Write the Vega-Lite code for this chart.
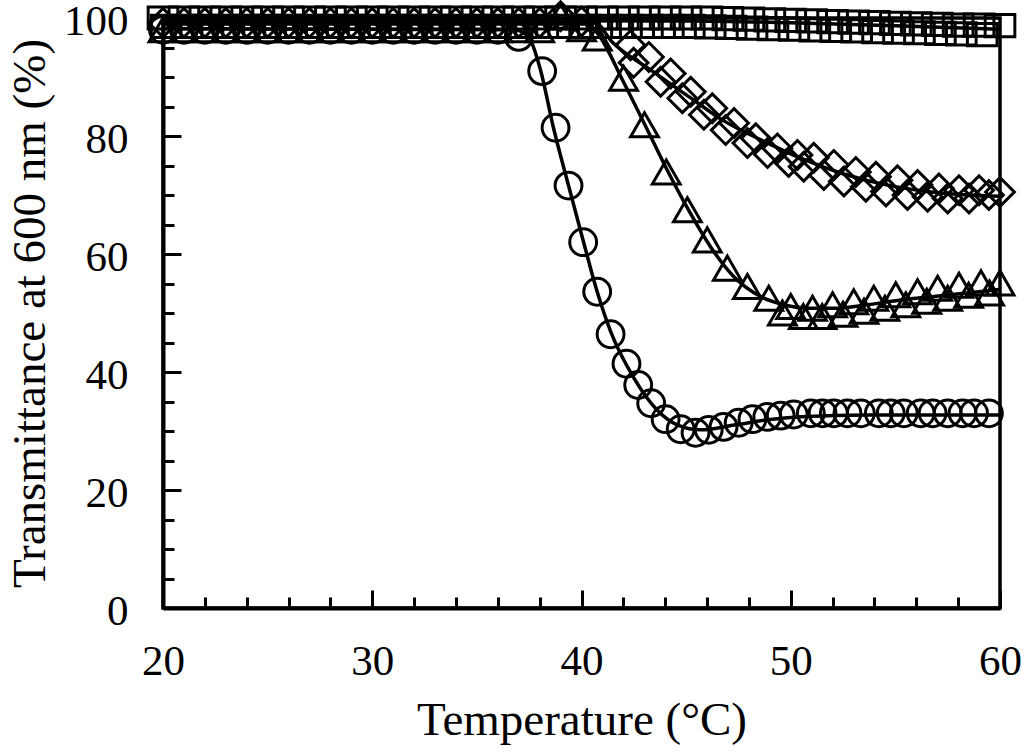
{
  "$schema": "https://vega.github.io/schema/vega-lite/v6.json",
  "width": 837,
  "height": 590,
  "autosize": {"type": "none"},
  "padding": {"left": 163, "top": 18, "right": 24, "bottom": 144},
  "background": "white",
  "config": {
    "view": {"stroke": "black", "strokeWidth": 3.5},
    "axis": {
      "grid": false,
      "domainColor": "black",
      "domainWidth": 4,
      "tickColor": "black",
      "tickWidth": 3,
      "labelColor": "black",
      "titleColor": "black",
      "labelFont": "Liberation Serif",
      "titleFont": "Liberation Serif",
      "labelFontSize": 43,
      "titleFontSize": 47,
      "titleFontWeight": "normal"
    }
  },
  "datasets": {
    "fits": [
      {"s": "circ", "T": 20, "V": 98.2}, {"s": "circ", "T": 36.8, "V": 98.0}, {"s": "circ", "T": 37.5, "V": 96.6},
      {"s": "circ", "T": 38.04, "V": 91.2}, {"s": "circ", "T": 38.66, "V": 81.4}, {"s": "circ", "T": 39.38, "V": 71.6},
      {"s": "circ", "T": 40.1, "V": 62.0}, {"s": "circ", "T": 40.75, "V": 53.6}, {"s": "circ", "T": 41.4, "V": 46.8},
      {"s": "circ", "T": 42.5, "V": 39.0}, {"s": "circ", "T": 43.6, "V": 33.6}, {"s": "circ", "T": 44.6, "V": 31.0},
      {"s": "circ", "T": 45.7, "V": 30.2}, {"s": "circ", "T": 47.3, "V": 31.0}, {"s": "circ", "T": 48.9, "V": 31.9},
      {"s": "circ", "T": 50.5, "V": 32.4}, {"s": "circ", "T": 53.7, "V": 32.7}, {"s": "circ", "T": 60, "V": 32.7},
      {"s": "tri", "T": 20, "V": 99.0}, {"s": "tri", "T": 40.3, "V": 99.0}, {"s": "tri", "T": 40.75, "V": 97.5},
      {"s": "tri", "T": 42.0, "V": 89.2}, {"s": "tri", "T": 43.1, "V": 81.4}, {"s": "tri", "T": 44.1, "V": 74.2},
      {"s": "tri", "T": 45.06, "V": 67.8}, {"s": "tri", "T": 46.17, "V": 61.2}, {"s": "tri", "T": 47.27, "V": 56.2},
      {"s": "tri", "T": 48.56, "V": 52.8}, {"s": "tri", "T": 49.67, "V": 51.4}, {"s": "tri", "T": 50.9, "V": 50.8},
      {"s": "tri", "T": 52.06, "V": 50.8}, {"s": "tri", "T": 53.67, "V": 51.4}, {"s": "tri", "T": 55.26, "V": 52.2},
      {"s": "tri", "T": 56.85, "V": 52.8}, {"s": "tri", "T": 58.45, "V": 53.4}, {"s": "tri", "T": 60, "V": 54.0},
      {"s": "dia", "T": 20, "V": 99.3}, {"s": "dia", "T": 40.6, "V": 99.3}, {"s": "dia", "T": 41.5, "V": 95.8},
      {"s": "dia", "T": 43.3, "V": 91.2}, {"s": "dia", "T": 45.36, "V": 86.1}, {"s": "dia", "T": 46.65, "V": 82.9},
      {"s": "dia", "T": 48.9, "V": 78.8}, {"s": "dia", "T": 50.5, "V": 76.2}, {"s": "dia", "T": 52.5, "V": 73.6},
      {"s": "dia", "T": 54.45, "V": 71.8}, {"s": "dia", "T": 56.5, "V": 70.6}, {"s": "dia", "T": 58.45, "V": 70.0},
      {"s": "dia", "T": 60, "V": 69.8},
      {"s": "sq", "T": 20, "V": 99.6}, {"s": "sq", "T": 45, "V": 99.5}, {"s": "sq", "T": 50, "V": 99.2},
      {"s": "sq", "T": 55, "V": 98.7}, {"s": "sq", "T": 60, "V": 98.1}
    ],
    "pts": [
      {"m": "sq", "T": 20, "V": 100.0}, {"m": "sq", "T": 21, "V": 100.0}, {"m": "sq", "T": 22, "V": 100.0}, {"m": "sq", "T": 23, "V": 100.0},
      {"m": "sq", "T": 24, "V": 100.0}, {"m": "sq", "T": 25, "V": 100.0}, {"m": "sq", "T": 26, "V": 100.0}, {"m": "sq", "T": 27, "V": 100.0},
      {"m": "sq", "T": 28, "V": 100.0}, {"m": "sq", "T": 29, "V": 100.0}, {"m": "sq", "T": 30, "V": 100.0}, {"m": "sq", "T": 31, "V": 100.0},
      {"m": "sq", "T": 32, "V": 100.0}, {"m": "sq", "T": 33, "V": 100.0}, {"m": "sq", "T": 34, "V": 100.0}, {"m": "sq", "T": 35, "V": 100.0},
      {"m": "sq", "T": 36, "V": 100.0}, {"m": "sq", "T": 37, "V": 100.0}, {"m": "sq", "T": 38, "V": 100.0}, {"m": "sq", "T": 39, "V": 100.0},
      {"m": "sq", "T": 40, "V": 100.0}, {"m": "sq", "T": 41, "V": 100.0}, {"m": "sq", "T": 42, "V": 100.0}, {"m": "sq", "T": 43, "V": 100.0},
      {"m": "sq", "T": 44, "V": 100.0}, {"m": "sq", "T": 45, "V": 100.0}, {"m": "sq", "T": 46, "V": 100.0}, {"m": "sq", "T": 47, "V": 99.9},
      {"m": "sq", "T": 48, "V": 99.8}, {"m": "sq", "T": 49, "V": 99.7}, {"m": "sq", "T": 50, "V": 99.6}, {"m": "sq", "T": 51, "V": 99.5},
      {"m": "sq", "T": 52, "V": 99.4}, {"m": "sq", "T": 53, "V": 99.3}, {"m": "sq", "T": 54, "V": 99.2}, {"m": "sq", "T": 55, "V": 99.1},
      {"m": "sq", "T": 56, "V": 99.0}, {"m": "sq", "T": 57, "V": 98.9}, {"m": "sq", "T": 58, "V": 98.8}, {"m": "sq", "T": 59, "V": 98.8},
      {"m": "sq", "T": 60, "V": 98.7},
      {"m": "sq", "T": 20.15, "V": 98.6}, {"m": "sq", "T": 21.15, "V": 98.6}, {"m": "sq", "T": 22.15, "V": 98.6}, {"m": "sq", "T": 23.15, "V": 98.6},
      {"m": "sq", "T": 24.15, "V": 98.6}, {"m": "sq", "T": 25.15, "V": 98.6}, {"m": "sq", "T": 26.15, "V": 98.6}, {"m": "sq", "T": 27.15, "V": 98.6},
      {"m": "sq", "T": 28.15, "V": 98.6}, {"m": "sq", "T": 29.15, "V": 98.6}, {"m": "sq", "T": 30.15, "V": 98.6}, {"m": "sq", "T": 31.15, "V": 98.6},
      {"m": "sq", "T": 32.15, "V": 98.6}, {"m": "sq", "T": 33.15, "V": 98.6}, {"m": "sq", "T": 34.15, "V": 98.6}, {"m": "sq", "T": 35.15, "V": 98.6},
      {"m": "sq", "T": 36.15, "V": 98.6}, {"m": "sq", "T": 37.15, "V": 98.6}, {"m": "sq", "T": 38.15, "V": 98.6}, {"m": "sq", "T": 39.15, "V": 98.6},
      {"m": "sq", "T": 40.15, "V": 98.6}, {"m": "sq", "T": 41.15, "V": 98.6}, {"m": "sq", "T": 42.15, "V": 98.6}, {"m": "sq", "T": 43.15, "V": 98.6},
      {"m": "sq", "T": 44.15, "V": 98.6}, {"m": "sq", "T": 45.15, "V": 98.6}, {"m": "sq", "T": 46.15, "V": 98.5}, {"m": "sq", "T": 47.15, "V": 98.4},
      {"m": "sq", "T": 48.15, "V": 98.3}, {"m": "sq", "T": 49.15, "V": 98.2}, {"m": "sq", "T": 50.15, "V": 98.1}, {"m": "sq", "T": 51.15, "V": 98.0},
      {"m": "sq", "T": 52.15, "V": 97.9}, {"m": "sq", "T": 53.15, "V": 97.8}, {"m": "sq", "T": 54.15, "V": 97.7}, {"m": "sq", "T": 55.15, "V": 97.6},
      {"m": "sq", "T": 56.15, "V": 97.5}, {"m": "sq", "T": 57.15, "V": 97.4}, {"m": "sq", "T": 58.15, "V": 97.3}, {"m": "sq", "T": 59.15, "V": 97.2},
      {"m": "dia", "T": 20, "V": 99.2}, {"m": "dia", "T": 21, "V": 99.2}, {"m": "dia", "T": 22, "V": 99.2}, {"m": "dia", "T": 23, "V": 99.2},
      {"m": "dia", "T": 24, "V": 99.2}, {"m": "dia", "T": 25, "V": 99.2}, {"m": "dia", "T": 26, "V": 99.2}, {"m": "dia", "T": 27, "V": 99.2},
      {"m": "dia", "T": 28, "V": 99.2}, {"m": "dia", "T": 29, "V": 99.2}, {"m": "dia", "T": 30, "V": 99.2}, {"m": "dia", "T": 31, "V": 99.2},
      {"m": "dia", "T": 32, "V": 99.2}, {"m": "dia", "T": 33, "V": 99.2}, {"m": "dia", "T": 34, "V": 99.2}, {"m": "dia", "T": 35, "V": 99.2},
      {"m": "dia", "T": 36, "V": 99.2}, {"m": "dia", "T": 37, "V": 99.2}, {"m": "dia", "T": 38, "V": 99.2}, {"m": "dia", "T": 39, "V": 100.3},
      {"m": "dia", "T": 40, "V": 99.4},
      {"m": "dia", "T": 42.34, "V": 95.4}, {"m": "dia", "T": 43.22, "V": 93.4}, {"m": "dia", "T": 44.26, "V": 90.6}, {"m": "dia", "T": 45.22, "V": 87.5},
      {"m": "dia", "T": 46.25, "V": 84.7}, {"m": "dia", "T": 47.29, "V": 82.2}, {"m": "dia", "T": 48.33, "V": 79.6}, {"m": "dia", "T": 49.36, "V": 77.9},
      {"m": "dia", "T": 50.32, "V": 76.8}, {"m": "dia", "T": 51.1, "V": 76.3}, {"m": "dia", "T": 52.06, "V": 75.1}, {"m": "dia", "T": 53.11, "V": 73.9},
      {"m": "dia", "T": 54.07, "V": 73.1}, {"m": "dia", "T": 55.1, "V": 72.5}, {"m": "dia", "T": 56.06, "V": 71.7}, {"m": "dia", "T": 57.08, "V": 71.1},
      {"m": "dia", "T": 58.04, "V": 70.8}, {"m": "dia", "T": 59.0, "V": 70.8}, {"m": "dia", "T": 60.0, "V": 70.5},
      {"m": "dia", "T": 42.49, "V": 92.4}, {"m": "dia", "T": 43.78, "V": 89.2}, {"m": "dia", "T": 44.82, "V": 86.4}, {"m": "dia", "T": 45.85, "V": 83.6},
      {"m": "dia", "T": 46.89, "V": 81.0}, {"m": "dia", "T": 47.93, "V": 78.8}, {"m": "dia", "T": 48.89, "V": 77.1}, {"m": "dia", "T": 49.9, "V": 75.6},
      {"m": "dia", "T": 50.62, "V": 74.8}, {"m": "dia", "T": 51.58, "V": 73.4}, {"m": "dia", "T": 52.54, "V": 72.3}, {"m": "dia", "T": 53.59, "V": 71.4},
      {"m": "dia", "T": 54.55, "V": 70.6}, {"m": "dia", "T": 55.58, "V": 70.0}, {"m": "dia", "T": 56.54, "V": 69.7}, {"m": "dia", "T": 57.5, "V": 69.4},
      {"m": "dia", "T": 58.52, "V": 69.4}, {"m": "dia", "T": 59.47, "V": 70.0},
      {"m": "tri", "T": 20, "V": 98.0}, {"m": "tri", "T": 21, "V": 98.0}, {"m": "tri", "T": 22, "V": 98.0}, {"m": "tri", "T": 23, "V": 98.0},
      {"m": "tri", "T": 24, "V": 98.0}, {"m": "tri", "T": 25, "V": 98.0}, {"m": "tri", "T": 26, "V": 98.0}, {"m": "tri", "T": 27, "V": 98.0},
      {"m": "tri", "T": 28, "V": 98.0}, {"m": "tri", "T": 29, "V": 98.0}, {"m": "tri", "T": 30, "V": 98.0}, {"m": "tri", "T": 31, "V": 98.0},
      {"m": "tri", "T": 32, "V": 98.0}, {"m": "tri", "T": 33, "V": 98.0}, {"m": "tri", "T": 34, "V": 98.0}, {"m": "tri", "T": 35, "V": 98.0},
      {"m": "tri", "T": 36, "V": 98.0}, {"m": "tri", "T": 37, "V": 98.0}, {"m": "tri", "T": 38, "V": 98.0}, {"m": "tri", "T": 39, "V": 100.3},
      {"m": "tri", "T": 40, "V": 98.2},
      {"m": "tri", "T": 40.75, "V": 96.6}, {"m": "tri", "T": 42.01, "V": 89.8}, {"m": "tri", "T": 43.01, "V": 81.9}, {"m": "tri", "T": 44.05, "V": 73.9},
      {"m": "tri", "T": 45.06, "V": 67.5}, {"m": "tri", "T": 46.01, "V": 62.4}, {"m": "tri", "T": 46.97, "V": 57.6}, {"m": "tri", "T": 47.93, "V": 54.5},
      {"m": "tri", "T": 48.95, "V": 52.5}, {"m": "tri", "T": 50.0, "V": 51.1}, {"m": "tri", "T": 51.04, "V": 50.8}, {"m": "tri", "T": 52.0, "V": 51.4},
      {"m": "tri", "T": 53.01, "V": 51.9}, {"m": "tri", "T": 53.97, "V": 52.5}, {"m": "tri", "T": 55.02, "V": 53.1}, {"m": "tri", "T": 56.06, "V": 53.6},
      {"m": "tri", "T": 57.02, "V": 54.2}, {"m": "tri", "T": 58.04, "V": 54.7}, {"m": "tri", "T": 59.09, "V": 55.1}, {"m": "tri", "T": 60.0, "V": 55.1},
      {"m": "tri", "T": 49.6, "V": 50.0}, {"m": "tri", "T": 50.6, "V": 49.4}, {"m": "tri", "T": 51.5, "V": 49.4}, {"m": "tri", "T": 52.5, "V": 49.8},
      {"m": "tri", "T": 53.5, "V": 50.3}, {"m": "tri", "T": 54.5, "V": 50.8}, {"m": "tri", "T": 55.5, "V": 51.4}, {"m": "tri", "T": 56.5, "V": 52.0},
      {"m": "tri", "T": 57.5, "V": 52.5}, {"m": "tri", "T": 58.5, "V": 53.0}, {"m": "tri", "T": 59.5, "V": 53.4},
      {"m": "circ", "T": 20, "V": 98.0}, {"m": "circ", "T": 21, "V": 98.0}, {"m": "circ", "T": 22, "V": 98.0}, {"m": "circ", "T": 23, "V": 98.0},
      {"m": "circ", "T": 24, "V": 98.0}, {"m": "circ", "T": 25, "V": 98.0}, {"m": "circ", "T": 26, "V": 98.0}, {"m": "circ", "T": 27, "V": 98.0},
      {"m": "circ", "T": 28, "V": 98.0}, {"m": "circ", "T": 29, "V": 98.0}, {"m": "circ", "T": 30, "V": 98.0}, {"m": "circ", "T": 31, "V": 98.0},
      {"m": "circ", "T": 32, "V": 98.0}, {"m": "circ", "T": 33, "V": 98.0}, {"m": "circ", "T": 34, "V": 98.0}, {"m": "circ", "T": 35, "V": 98.0},
      {"m": "circ", "T": 36, "V": 98.0}, {"m": "circ", "T": 37.0, "V": 96.8},
      {"m": "circ", "T": 38.12, "V": 91.0}, {"m": "circ", "T": 38.76, "V": 81.4}, {"m": "circ", "T": 39.38, "V": 71.6}, {"m": "circ", "T": 40.08, "V": 62.0},
      {"m": "circ", "T": 40.75, "V": 53.6}, {"m": "circ", "T": 41.39, "V": 46.4}, {"m": "circ", "T": 42.15, "V": 41.4}, {"m": "circ", "T": 42.71, "V": 37.8},
      {"m": "circ", "T": 43.33, "V": 34.7}, {"m": "circ", "T": 44.02, "V": 32.0}, {"m": "circ", "T": 44.74, "V": 30.3}, {"m": "circ", "T": 45.45, "V": 29.7},
      {"m": "circ", "T": 46.08, "V": 30.2}, {"m": "circ", "T": 46.79, "V": 30.7}, {"m": "circ", "T": 47.51, "V": 31.4}, {"m": "circ", "T": 48.17, "V": 32.0},
      {"m": "circ", "T": 48.88, "V": 32.4}, {"m": "circ", "T": 49.52, "V": 32.6}, {"m": "circ", "T": 50.14, "V": 32.8}, {"m": "circ", "T": 50.96, "V": 33.0},
      {"m": "circ", "T": 51.52, "V": 33.0}, {"m": "circ", "T": 52.06, "V": 33.0}, {"m": "circ", "T": 52.71, "V": 33.0}, {"m": "circ", "T": 53.35, "V": 33.0},
      {"m": "circ", "T": 54.21, "V": 33.0}, {"m": "circ", "T": 54.78, "V": 33.0}, {"m": "circ", "T": 55.4, "V": 33.0}, {"m": "circ", "T": 56.21, "V": 33.0},
      {"m": "circ", "T": 56.78, "V": 33.0}, {"m": "circ", "T": 57.5, "V": 33.0}, {"m": "circ", "T": 58.21, "V": 33.0}, {"m": "circ", "T": 58.76, "V": 33.0},
      {"m": "circ", "T": 59.47, "V": 33.0}
    ]
  },
  "layer": [
    {
      "data": {"name": "fits"},
      "mark": {"type": "line", "color": "black", "strokeWidth": 3.5, "interpolate": "monotone"},
      "encoding": {
        "x": {"field": "T", "type": "quantitative",
              "scale": {"domain": [20, 60], "nice": false, "zero": false},
              "axis": {"orient": "bottom", "values": [20, 30, 40, 50, 60], "tickSize": -18, "labelPadding": 50,
                       "title": "Temperature (°C)", "titlePadding": 14, "labelFlush": false}},
        "y": {"field": "V", "type": "quantitative",
              "scale": {"domain": [0, 100], "nice": false, "zero": false},
              "axis": {"orient": "left", "values": [0, 20, 40, 60, 80, 100], "tickSize": -18, "labelPadding": 53,
                       "labelOffset": 3, "title": "Transmittance at 600 nm (%)", "titlePadding": 9, "labelFlush": false}},
        "detail": {"field": "s"}
      }
    },
    {
      "data": {"name": "pts"},
      "mark": {"type": "point", "filled": false, "stroke": "black", "strokeWidth": 3, "opacity": 1},
      "encoding": {
        "x": {"field": "T", "type": "quantitative",
              "scale": {"domain": [20, 60], "nice": false, "zero": false},
              "axis": {"orient": "bottom", "values": [22, 24, 26, 28, 32, 34, 36, 38, 42, 44, 46, 48, 52, 54, 56, 58],
                       "tickSize": -11, "labels": false, "domain": false, "title": null}},
        "y": {"field": "V", "type": "quantitative",
              "scale": {"domain": [0, 100], "nice": false, "zero": false},
              "axis": {"orient": "left", "values": [5, 10, 15, 25, 30, 35, 45, 50, 55, 65, 70, 75, 85, 90, 95],
                       "tickSize": -11, "labels": false, "domain": false, "title": null}},
        "shape": {"field": "m", "type": "nominal", "legend": null,
                  "scale": {"domain": ["circ", "tri", "dia", "sq"],
                            "range": ["circle", "triangle-up", "diamond", "M-1,-0.75H1V0.75H-1Z"]}},
        "size": {"field": "m", "type": "nominal", "legend": null,
                 "scale": {"domain": ["circ", "tri", "dia", "sq"], "range": [720, 880, 660, 440]}}
      }
    }
  ],
  "resolve": {"axis": {"x": "independent", "y": "independent"}}
}
